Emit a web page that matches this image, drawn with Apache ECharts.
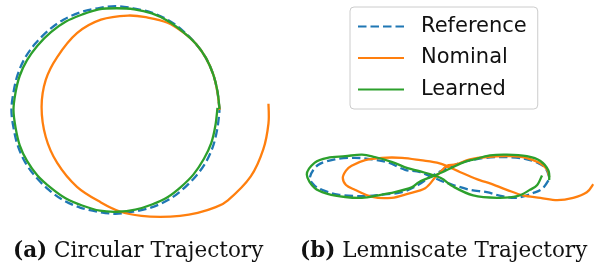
<!DOCTYPE html>
<html>
<head>
    <meta charset="utf-8">
    <title>Trajectories</title>
    <script src="https://cdn.jsdelivr.net/npm/echarts@6/dist/echarts.min.js"></script>
</head>
<body style="margin:0;background:#fff;">
<div id="main" style="width:594px;height:267px;"></div>
<script type="text/javascript">
    // (a) circular trajectory, [x, y]
    var circRef = [
        [1.00, 0.00], [0.98, 0.17], [0.94, 0.34], [0.87, 0.50], [0.77, 0.64], [0.64, 0.77],
        [0.50, 0.87], [0.34, 0.94], [0.17, 0.98], [0.00, 1.00], [-0.17, 0.98], [-0.34, 0.94],
        [-0.50, 0.87], [-0.64, 0.77], [-0.77, 0.64], [-0.87, 0.50], [-0.94, 0.34], [-0.98, 0.17],
        [-1.00, 0.00], [-0.98, -0.17], [-0.94, -0.34], [-0.87, -0.50], [-0.77, -0.64], [-0.64, -0.77],
        [-0.50, -0.87], [-0.34, -0.94], [-0.17, -0.98], [0.00, -1.00], [0.17, -0.98], [0.34, -0.94],
        [0.50, -0.87], [0.64, -0.77], [0.77, -0.64], [0.87, -0.50], [0.94, -0.34], [0.98, -0.17],
        [1.00, 0.00]
    ];
    var circNominal = [
        [1.00, 0.00], [0.98, 0.17], [0.94, 0.34], [0.87, 0.50], [0.77, 0.64], [0.66, 0.74],
        [0.50, 0.84], [0.31, 0.89], [0.12, 0.91], [-0.14, 0.87], [-0.37, 0.74], [-0.56, 0.51],
        [-0.67, 0.29], [-0.71, 0.03], [-0.67, -0.26], [-0.56, -0.51], [-0.37, -0.74], [-0.14, -0.89],
        [0.05, -0.98], [0.25, -1.02], [0.43, -1.03], [0.62, -1.02], [0.79, -0.99], [0.95, -0.94],
        [1.08, -0.87], [1.30, -0.64], [1.42, -0.38], [1.47, -0.13], [1.47, 0.06]
    ];
    var circLearned = [
        [1.00, 0.01], [0.98, 0.18], [0.94, 0.34], [0.87, 0.50], [0.77, 0.64], [0.64, 0.76],
        [0.50, 0.86], [0.35, 0.93], [0.18, 0.97], [0.01, 0.98], [-0.16, 0.97], [-0.32, 0.92],
        [-0.48, 0.85], [-0.62, 0.75], [-0.75, 0.62], [-0.85, 0.48], [-0.92, 0.33], [-0.96, 0.17],
        [-0.98, 0.00], [-0.96, -0.17], [-0.92, -0.34], [-0.85, -0.49], [-0.75, -0.63], [-0.62, -0.75],
        [-0.48, -0.85], [-0.32, -0.92], [-0.15, -0.97], [0.02, -0.98], [0.19, -0.96], [0.35, -0.91],
        [0.50, -0.84], [0.63, -0.74], [0.75, -0.62], [0.85, -0.47], [0.92, -0.32], [0.96, -0.15],
        [0.98, 0.02]
    ];

    // (b) lemniscate trajectory, [x, y]
    var lemRef = [
        [1.49, 0.00], [1.45, 0.10], [1.36, 0.17], [1.17, 0.23], [0.90, 0.25], [0.62, 0.23],
        [0.36, 0.17], [0.15, 0.08], [0.00, 0.00], [-0.15, -0.10], [-0.35, -0.19], [-0.60, -0.22],
        [-0.85, -0.24], [-1.15, -0.22], [-1.35, -0.16], [-1.45, -0.10], [-1.50, 0.00], [-1.40, 0.15],
        [-1.19, 0.22], [-0.94, 0.24], [-0.72, 0.22], [-0.52, 0.18], [-0.31, 0.09], [-0.12, 0.06],
        [0.12, -0.04], [0.29, -0.10], [0.50, -0.16], [0.71, -0.19], [0.90, -0.24], [1.09, -0.26],
        [1.29, -0.20], [1.41, -0.14], [1.50, -0.01]
    ];
    var lemNominal = [
        [1.49, 0.00], [1.46, 0.10], [1.36, 0.18], [1.20, 0.24], [1.00, 0.26], [0.71, 0.25],
        [0.50, 0.22], [0.33, 0.16], [0.21, 0.14], [0.13, 0.06], [0.06, -0.01], [-0.06, -0.14],
        [-0.28, -0.21], [-0.48, -0.26], [-0.72, -0.25], [-0.94, -0.16], [-1.05, -0.10], [-1.09, -0.01],
        [-1.05, 0.08], [-0.98, 0.14], [-0.81, 0.21], [-0.60, 0.24], [-0.35, 0.24], [-0.12, 0.21],
        [0.12, 0.17], [0.38, 0.06], [0.62, -0.04], [0.75, -0.08], [0.96, -0.16], [1.16, -0.23],
        [1.38, -0.26], [1.59, -0.29], [1.79, -0.26], [1.96, -0.19], [2.04, -0.09]
    ];
    var lemLearned = [
        [1.49, -0.04], [1.48, 0.08], [1.38, 0.20], [1.21, 0.26], [0.96, 0.28], [0.75, 0.27],
        [0.55, 0.22], [0.41, 0.18], [0.13, 0.05], [-0.13, -0.06], [-0.23, -0.13], [-0.44, -0.19],
        [-0.65, -0.23], [-0.85, -0.26], [-1.06, -0.25], [-1.28, -0.21], [-1.44, -0.14], [-1.54, 0.03],
        [-1.44, 0.18], [-1.28, 0.24], [-1.06, 0.26], [-0.85, 0.28], [-0.69, 0.25], [-0.48, 0.19],
        [-0.28, 0.11], [-0.12, 0.07], [0.13, -0.01], [0.29, -0.12], [0.54, -0.23], [0.84, -0.26],
        [1.09, -0.24], [1.25, -0.16], [1.34, -0.10], [1.40, 0.02]
    ];

    var names = ['Reference', 'Nominal', 'Learned'];
    var captions = ['Circular Trajectory', 'Lemniscate Trajectory'];
    var colors = ['#1f77b4', '#ff7f0e', '#2ca02c'];

    // legend-only line series (empty), so the legend gets line icons
    function legendLine(name, color, dashed) {
        return {
            name: name,
            type: 'line',
            data: [],
            symbol: 'none',
            color: color,
            lineStyle: {color: color, width: 2.3, type: dashed ? [8.5, 4] : 'solid'}
        };
    }

    // smooth curve through the points (catmull-rom as bezier), drawn in grid idx
    function curve(name, data, idx, color, dashed) {
        return {
            name: name,
            type: 'custom',
            xAxisIndex: idx,
            yAxisIndex: idx,
            data: data,
            encode: {x: 0, y: 1},
            clip: false,
            silent: true,
            renderItem: function (params, api) {
                if (params.dataIndex !== 0) {
                    return null;
                }
                var p = data.map(function (d) { return api.coord(d); });
                var n = p.length;
                var path = 'M' + p[0][0] + ',' + p[0][1];
                for (var i = 0; i < n - 1; i++) {
                    var p0 = p[Math.max(i - 1, 0)], p1 = p[i], p2 = p[i + 1], p3 = p[Math.min(i + 2, n - 1)];
                    var c1x = p1[0] + (p2[0] - p0[0]) / 6, c1y = p1[1] + (p2[1] - p0[1]) / 6;
                    var c2x = p2[0] - (p3[0] - p1[0]) / 6, c2y = p2[1] - (p3[1] - p1[1]) / 6;
                    path += 'C' + c1x + ',' + c1y + ',' + c2x + ',' + c2y + ',' + p2[0] + ',' + p2[1];
                }
                return {
                    type: 'path',
                    shape: {pathData: path},
                    style: {
                        fill: null,
                        stroke: color,
                        lineWidth: 2.3,
                        lineDash: dashed ? [8.5, 4] : null
                    }
                };
            }
        };
    }

    function caption(tag, text, left) {
        return {
            text: '{b|' + tag + '} ' + text,
            left: left,
            top: 240,
            padding: 0,
            textStyle: {
                fontFamily: 'DejaVu Serif',
                fontSize: 21.5,
                fontWeight: 'normal',
                color: '#111111',
                rich: {b: {fontFamily: 'DejaVu Serif', fontSize: 21.5, fontWeight: 'bold', color: '#111111'}}
            }
        };
    }

    var myChart = echarts.init(document.getElementById('main'));
    var option = {
        animation: false,
        backgroundColor: '#ffffff',
        grid: [
            {left: 1, top: 1, width: 281, height: 218},
            {left: 306, top: 137, width: 288, height: 80}
        ],
        xAxis: [
            {type: 'value', gridIndex: 0, min: -1.1, max: 1.6, show: false},
            {type: 'value', gridIndex: 1, min: -1.55, max: 2.05, show: false}
        ],
        yAxis: [
            {type: 'value', gridIndex: 0, min: -1.05, max: 1.05, show: false},
            {type: 'value', gridIndex: 1, min: -0.5, max: 0.5, show: false}
        ],
        legend: {
            data: names,
            orient: 'vertical',
            left: 350,
            top: 7,
            itemWidth: 46,
            itemHeight: 14,
            itemGap: 10.5,
            padding: [9, 11, 9, 7],
            borderColor: '#cccccc',
            borderWidth: 1,
            borderRadius: 4,
            backgroundColor: '#ffffff',
            selectedMode: false,
            itemStyle: {opacity: 0},
            textStyle: {
                fontFamily: 'DejaVu Sans',
                fontSize: 21,
                color: '#111111',
                padding: [0, 0, 0, 12]
            }
        },
        title: [
            caption('(a)', captions[0], 13),
            caption('(b)', captions[1], 300)
        ],
        series: [
            legendLine(names[0], colors[0], true),
            legendLine(names[1], colors[1], false),
            legendLine(names[2], colors[2], false),
            curve(names[0], circRef, 0, colors[0], true),
            curve(names[1], circNominal, 0, colors[1], false),
            curve(names[2], circLearned, 0, colors[2], false),
            curve(names[0], lemRef, 1, colors[0], true),
            curve(names[1], lemNominal, 1, colors[1], false),
            curve(names[2], lemLearned, 1, colors[2], false)
        ]
    };
    myChart.setOption(option);
</script>
</body>
</html>
